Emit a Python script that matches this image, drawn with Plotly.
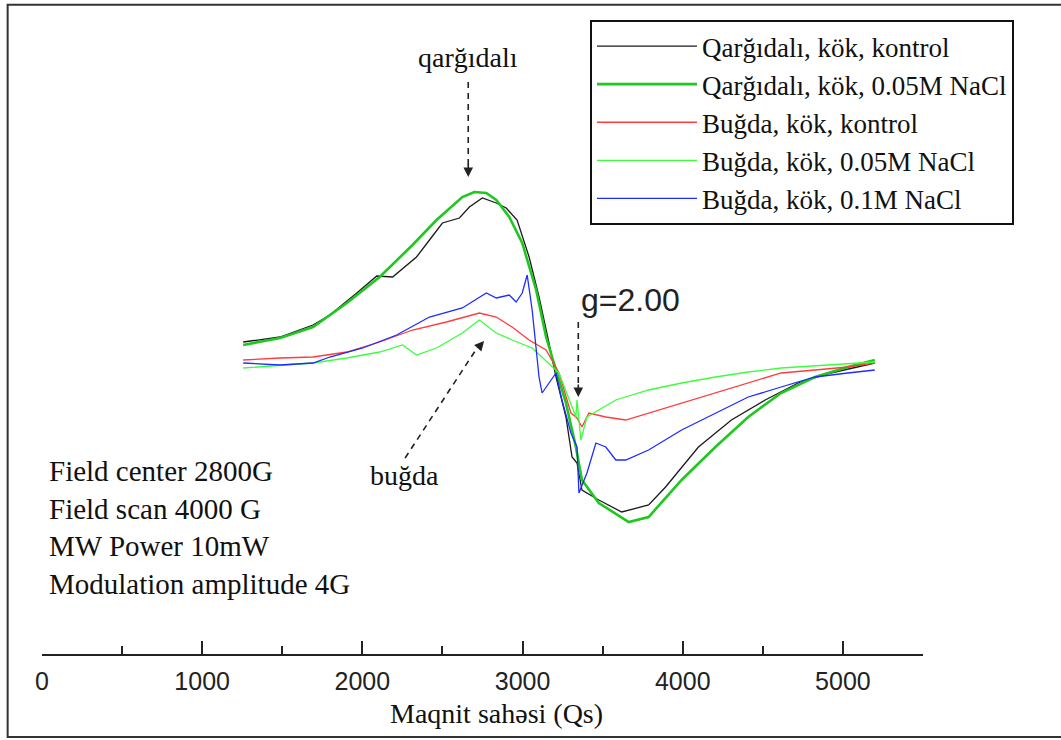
import plotly.graph_objects as go

# Field (G) and signal (arb. units)
qk_x = [1256, 1486, 1692, 1797, 1965, 2090, 2189, 2338, 2419, 2500, 2606, 2668, 2749, 2836, 2898, 2966,
        3041, 3103, 3165, 3209, 3271, 3309, 3340, 3371, 3476, 3619, 3787, 3893, 4098, 4304, 4515, 4720, 4925, 5199]
qk_y = [19, 24, 36, 46, 68, 85, 84, 104, 121, 138, 143, 154, 163, 158, 153, 141,
        104, 64, 18, -16, -56, -96, -102, -129, -139, -151, -144, -126, -86, -59, -39, -22, -12, -2]

qn_x = [1256, 1486, 1692, 1903, 2108, 2313, 2463, 2548, 2624, 2699, 2774, 2836, 2917, 2998, 3085, 3147,
        3209, 3271, 3333, 3371, 3476, 3663, 3787, 3993, 4204, 4409, 4614, 4826, 5031, 5199]
qn_y = [16, 23, 34, 58, 84, 116, 141, 153, 164, 169, 168, 161, 144, 118, 71, 24,
        -9, -42, -86, -119, -142, -161, -156, -119, -86, -56, -32, -16, -6, 1]

bk_x = [1256, 1486, 1692, 1903, 2108, 2313, 2525, 2730, 2836, 2935, 3041, 3147, 3228, 3271, 3302, 3340,
        3371, 3414, 3520, 3644, 3787, 3993, 4204, 4409, 4614, 4826, 5031, 5199]
bk_y = [1, 3, 4, 9, 19, 31, 39, 48, 44, 34, 21, 11, -12, -36, -52, -57,
        -66, -52, -56, -59, -52, -42, -32, -22, -12, -9, -6, -2]

b05_x = [1256, 1486, 1692, 1903, 2108, 2251, 2338, 2463, 2624, 2730, 2836, 2935, 3060, 3228, 3290, 3333,
         3340, 3364, 3402, 3476, 3582, 3787, 3993, 4204, 4409, 4614, 4925, 5199]
b05_y = [-7, -4, -2, 3, 9, 16, 6, 13, 28, 41, 28, 21, 13, -12, -39, -56,
         -39, -79, -56, -49, -39, -29, -22, -16, -11, -7, -4, -1]

b1_x = [1256, 1486, 1692, 1797, 2003, 2214, 2419, 2624, 2774, 2836, 2917, 2960, 2998, 3029, 3060, 3085,
        3103, 3122, 3165, 3209, 3246, 3302, 3340, 3352, 3402, 3458, 3520, 3582, 3644, 3787, 3993, 4204,
        4409, 4614, 4826, 5031, 5199]
b1_y = [-2, -4, -2, 4, 13, 26, 44, 53, 68, 63, 66, 59, 68, 86, 51, 8,
        -16, -32, -22, -12, -39, -72, -86, -132, -112, -82, -86, -99, -99, -89, -69, -52,
        -36, -26, -16, -12, -9]

names = ["Qarğıdalı, kök, kontrol", "Qarğıdalı, kök, 0.05M NaCl", "Buğda, kök, kontrol",
         "Buğda, kök, 0.05M NaCl", "Buğda, kök, 0.1M NaCl"]
xs = [qk_x, qn_x, bk_x, b05_x, b1_x]
ys = [qk_y, qn_y, bk_y, b05_y, b1_y]
colors = ["#1a1a1a", "#1ec81e", "#ff3b3b", "#3cff3c", "#1f2bff"]
widths = [1.3, 2.6, 1.3, 1.3, 1.3]

SERIF = "Liberation Serif"
SANS = "Liberation Sans"

fig = go.Figure()
for n, x, y, c, w in zip(names, xs, ys, colors, widths):
    fig.add_trace(go.Scatter(x=x, y=y, mode="lines", name=n, line=dict(color=c, width=w)))

# dashed arrows
dash_lines = [((2661, 279), (2661, 196)), ((3348, 39), (3348, -22)), ((2267, -97), (2720, 14))]
for (x0, y0), (x1, y1) in dash_lines:
    fig.add_shape(type="line", x0=x0, y0=y0, x1=x1, y1=y1, xref="x", yref="y",
                  line=dict(color="#222", width=1.6, dash="6px,5px"))
heads = [((2661, 184), (2661, 198)), ((3348, -36), (3348, -22)), ((2760, 20), (2716, 12))]
for (hx, hy), (tx, ty) in heads:
    fig.add_annotation(x=hx, y=hy, ax=tx, ay=ty, xref="x", yref="y", axref="x", ayref="y",
                       text="", showarrow=True, arrowhead=2, arrowsize=1.2, arrowwidth=1.6,
                       arrowcolor="#222")

fig.add_annotation(x=2661, y=304, xref="x", yref="y", text="qarğıdalı", showarrow=False,
                   font=dict(family=SERIF, size=28, color="#111"))
fig.add_annotation(x=2261, y=-114, xref="x", yref="y", text="buğda", showarrow=False,
                   font=dict(family=SERIF, size=28, color="#111"))
fig.add_annotation(x=3355, y=61, xref="x", yref="y", text="g=2.00", showarrow=False,
                   xanchor="left", font=dict(family=SANS, size=32, color="#222"))
fig.add_annotation(x=33, y=-166, xref="x", yref="y",
                   text="Field center 2800G<br>Field scan 4000 G<br>MW Power 10mW<br>Modulation amplitude 4G",
                   showarrow=False, xanchor="left", yanchor="middle", align="left",
                   font=dict(family=SERIF, size=29, color="#111"))
fig.add_annotation(x=(497 - 42) / 881, y=-0.093, xref="paper", yref="paper", text="Maqnit sahəsi (Qs)",
                   showarrow=False, yanchor="middle", font=dict(family=SERIF, size=28, color="#111"))

# outer frame
fig.add_shape(type="rect", xref="paper", yref="paper", x0=-0.039, x1=1.3, y0=-0.129, y1=1.008,
              line=dict(color="#333", width=2), fillcolor="rgba(0,0,0,0)")

fig.update_layout(
    width=1061, height=740,
    margin=dict(l=42, r=138, t=10, b=86),
    paper_bgcolor="white", plot_bgcolor="white",
    showlegend=True,
    legend=dict(x=(590 - 42) / 881, y=(654 - 20) / 644, xanchor="left", yanchor="top",
                bordercolor="#111", borderwidth=2, bgcolor="white",
                font=dict(family=SERIF, size=27, color="#111"), itemwidth=100,
                entrywidth=345, entrywidthmode="pixels"),
    xaxis=dict(range=[0, 5500], showgrid=False, zeroline=False, showline=True,
               linecolor="#222", linewidth=1.5, ticks="inside", ticklen=13, tickwidth=1.5,
               tickcolor="#222", dtick=1000, tick0=0,
               tickfont=dict(family=SANS, size=25, color="#222"), ticklabelstandoff=4,
               minor=dict(ticks="inside", ticklen=8, dtick=500, tickcolor="#222", tickwidth=1.5)),
    yaxis=dict(range=[-293, 351], visible=False),
)

fig.write_html("out.html", config={"displayModeBar": False},
               post_script="document.body.style.margin='0px';")
